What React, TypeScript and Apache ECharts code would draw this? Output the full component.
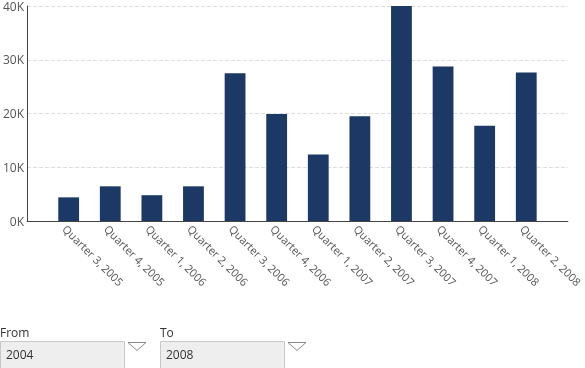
import React, { useEffect, useRef } from "react";
import * as echarts from "echarts";

const categories = [
  "Quarter 3, 2005",
  "Quarter 4, 2005",
  "Quarter 1, 2006",
  "Quarter 2, 2006",
  "Quarter 3, 2006",
  "Quarter 4, 2006",
  "Quarter 1, 2007",
  "Quarter 2, 2007",
  "Quarter 3, 2007",
  "Quarter 4, 2007",
  "Quarter 1, 2008",
  "Quarter 2, 2008",
];
const values = [4400, 6450, 4800, 6450, 27500, 19900, 12350, 19500, 40000, 28750, 17700, 27650];
const fromLabel = "From";
const toLabel = "To";
const fromValue = "2004";
const toValue = "2008";

const FONT = "'Open Sans', 'Noto Sans', sans-serif";

export default function App() {
  const ref = useRef<HTMLDivElement>(null);
  useEffect(() => {
    if (!ref.current) return;
    const chart = echarts.init(ref.current, undefined, { renderer: "svg" });
    const cats = ["", ...categories, ""];
    const data: (number | string)[] = ["-", ...values, "-"];
    const dropdown = (x: number, label: string, value: string) => [
      {
        type: "text",
        left: x,
        top: 326,
        style: { text: label, fill: "#333", font: `12px ${FONT}` },
      },
      {
        type: "rect",
        shape: { x: x + 0.5, y: 341.5, width: 124, height: 30 },
        style: { fill: "#eeeeee", stroke: "#c8c8c8", lineWidth: 1 },
      },
      {
        type: "text",
        left: x + 6,
        top: 348,
        style: { text: value, fill: "#333", font: `12px ${FONT}` },
      },
      {
        type: "polyline",
        shape: {
          points: [
            [x + 128, 342.5],
            [x + 146, 342.5],
            [x + 137, 350.5],
            [x + 128, 342.5],
          ],
        },
        style: { stroke: "#888", fill: "none", lineWidth: 1 },
      },
    ];
    chart.setOption({
      animation: false,
      grid: { left: 23, right: 14, top: 4, bottom: 147, containLabel: false },
      xAxis: {
        type: "category",
        data: cats,
        boundaryGap: false,
        axisTick: { show: false },
        axisLine: { lineStyle: { color: "#444", width: 1 } },
        axisLabel: {
          interval: 0,
          rotate: -45,
          margin: 2,
          verticalAlign: "top",
          color: "#555",
          fontFamily: FONT,
          fontSize: 11,
        },
        splitLine: { show: false },
      },
      yAxis: {
        type: "value",
        min: 0,
        max: 40000,
        interval: 10000,
        axisLine: { show: true, lineStyle: { color: "#444", width: 1 } },
        axisTick: { show: false },
        axisLabel: {
          margin: 3,
          color: "#555",
          fontFamily: FONT,
          fontSize: 12,
          formatter: (v: number) => `${v / 1000}K`,
        },
        splitLine: { lineStyle: { color: "#dddddd", type: "dashed" } },
      },
      series: [
        {
          type: "bar",
          data,
          barWidth: "50%",
          itemStyle: { color: "#1b3964" },
        },
      ],
      graphic: [...dropdown(0, fromLabel, fromValue), ...dropdown(160, toLabel, toValue)],
    });
    return () => chart.dispose();
  }, []);
  return (
    <div
      ref={ref}
      style={{ position: "fixed", left: 0, top: 0, width: 585, height: 368 }}
    />
  );
}
